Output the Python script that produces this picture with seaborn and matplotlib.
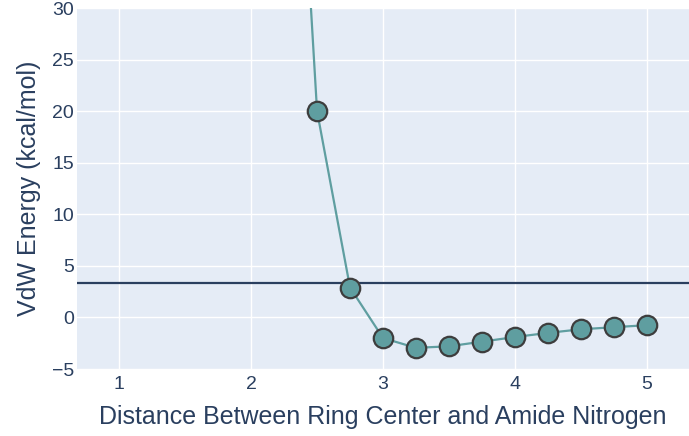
import numpy as np
import pandas as pd
import matplotlib
matplotlib.use("Agg")
import matplotlib.pyplot as plt
import seaborn as sns

# Данные: расстояние (Å) и энергия Ван-дер-Ваальса
distance = [2.25, 2.5, 2.75, 3.0, 3.25, 3.5, 3.75, 4.0, 4.25, 4.5, 4.75, 5.0]
vdw_energy = [74.0, 20.0, 2.9, -2.0, -2.95, -2.8, -2.35, -1.9, -1.5, -1.15, -0.95, -0.75]
reference_level = 3.35

x_ticks = [1, 2, 3, 4, 5]
y_ticks = [-5, 0, 5, 10, 15, 20, 25, 30]

# Стиль в духе plotly
sns.set_theme(style="darkgrid", rc={
    "axes.facecolor": "#E5ECF6",
    "grid.color": "white",
    "grid.linewidth": 1.0,
    "axes.edgecolor": "#E5ECF6",
})
plt.rcParams['font.family'] = ['Liberation Sans', 'DejaVu Sans']

text_color = "#2a3f5f"
df = pd.DataFrame({"distance": distance, "energy": vdw_energy})

fig = plt.figure(figsize=(6.89, 4.36), dpi=100)
ax = fig.add_axes([77 / 689, 67 / 436, 612 / 689, 361 / 436])

ax.axhline(reference_level, color=text_color, linewidth=1.6, zorder=2)

sns.lineplot(data=df, x="distance", y="energy", ax=ax,
             color="#5F9EA0", linewidth=1.6, marker="o", markersize=14,
             markerfacecolor="#5F9EA0", markeredgecolor="#3d3d3d",
             markeredgewidth=1.6, zorder=3)

ax.set_xlim(0.68, 5.32)
ax.set_ylim(-5, 30)
ax.set_xticks(x_ticks)
ax.set_yticks(y_ticks)
ax.tick_params(axis="both", length=0, labelsize=14, labelcolor=text_color)
ax.tick_params(axis="y", pad=2)
ax.tick_params(axis="x", pad=5)

ax.set_xlabel("Distance Between Ring Center and Amide Nitrogen",
              fontsize=18, color=text_color, labelpad=9)
ax.set_ylabel("VdW Energy (kcal/mol)", fontsize=18, color=text_color, labelpad=8)

for s in ax.spines.values():
    s.set_visible(False)

fig.savefig("out.png", dpi=100)
plt.close(fig)
